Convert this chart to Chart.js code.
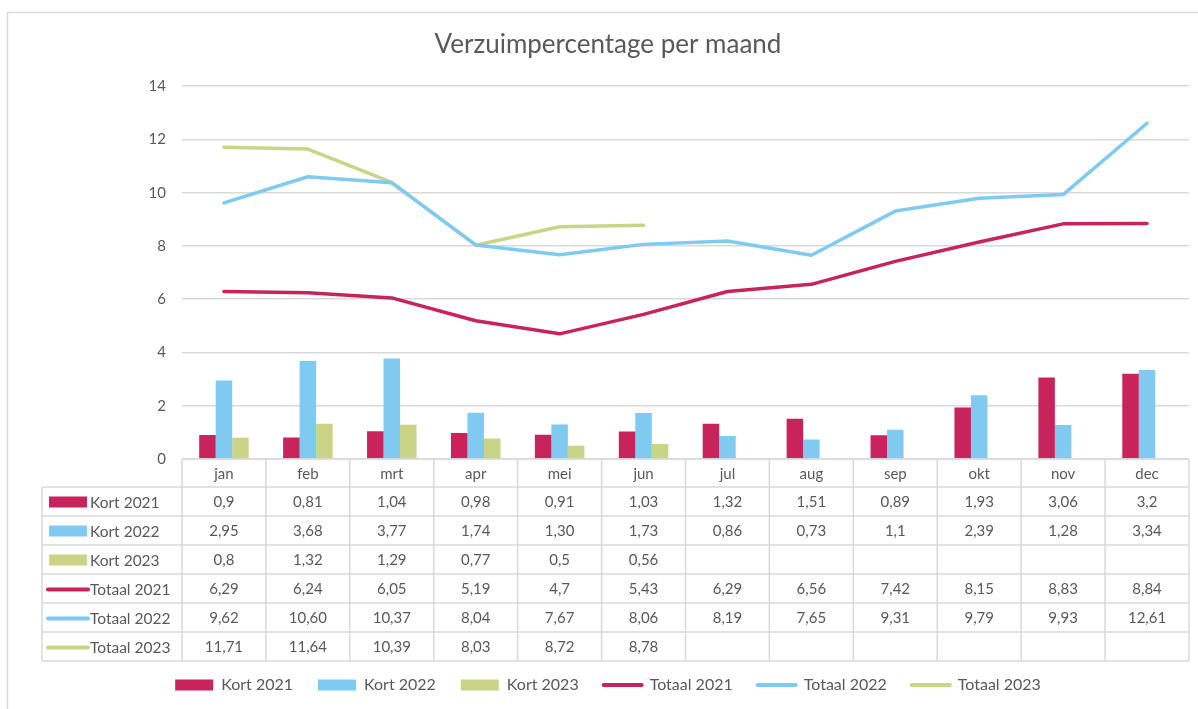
<!DOCTYPE html>
<html>
<head>
<meta charset="utf-8">
<script src="https://cdn.jsdelivr.net/npm/chart.js@4.4.1/dist/chart.umd.min.js"></script>
<style>
  html,body{margin:0;padding:0;background:#fff}
  #wrap{width:1198px;height:709px;position:relative}
</style>
</head>
<body>
<div id="wrap"><canvas id="chart"></canvas></div>
<script>
// Data (zoals in de tabel onder de grafiek)
const maanden = ['jan','feb','mrt','apr','mei','jun','jul','aug','sep','okt','nov','dec'];
const kort2021 = ['0,9','0,81','1,04','0,98','0,91','1,03','1,32','1,51','0,89','1,93','3,06','3,2'];
const kort2022 = ['2,95','3,68','3,77','1,74','1,30','1,73','0,86','0,73','1,1','2,39','1,28','3,34'];
const kort2023 = ['0,8','1,32','1,29','0,77','0,5','0,56'];
const totaal2021 = ['6,29','6,24','6,05','5,19','4,7','5,43','6,29','6,56','7,42','8,15','8,83','8,84'];
const totaal2022 = ['9,62','10,60','10,37','8,04','7,67','8,06','8,19','7,65','9,31','9,79','9,93','12,61'];
const totaal2023 = ['11,71','11,64','10,39','8,03','8,72','8,78'];
const yMin = 0, yMax = 14, yStap = 2;

const ROOD = '#c8245b', BLAUW = '#7ecaf1', GROEN = '#cad486';
const TEKST = '#595959', LIJN = '#d9d9d9';
const FONT = 'Lato, "Open Sans", sans-serif';

const num = arr => maanden.map((m,i)=> arr[i]==null ? null : parseFloat(arr[i].replace(',','.')));

const bar = (label, arr, kleur) => ({
  type:'bar', label, data:num(arr), tekst:arr,
  backgroundColor:kleur, borderWidth:0,
  barPercentage:1, categoryPercentage:0.59
});
const lijn = (label, arr, kleur) => ({
  type:'line', label, data:num(arr), tekst:arr,
  borderColor:kleur, backgroundColor:kleur, borderWidth:3.5,
  pointRadius:0, tension:0, spanGaps:false, borderCapStyle:'round', borderJoinStyle:'round'
});

// Kader + datatabel
const kader = {
  id:'kader',
  beforeDraw(chart){
    const ctx = chart.ctx;
    ctx.save();
    ctx.strokeStyle = LIJN; ctx.lineWidth = 1.5;
    ctx.beginPath();
    ctx.moveTo(7.5, 720); ctx.lineTo(7.5, 12.5); ctx.lineTo(1210, 12.5);
    ctx.stroke();
    ctx.restore();
  }
};

const dataTabel = {
  id:'dataTabel',
  afterDraw(chart){
    const {ctx, chartArea:a, scales:{x}} = chart;
    const ds = chart.data.datasets;
    const half = (x.getPixelForValue(1) - x.getPixelForValue(0)) / 2;
    const top = a.bottom, headH = 28, rowH = 29, left = 42;
    const bottom = top + headH + ds.length*rowH;
    ctx.save();
    ctx.strokeStyle = LIJN; ctx.lineWidth = 1.5;
    ctx.beginPath();
    ctx.moveTo(a.left, top); ctx.lineTo(a.right, top);
    for (let k = 0; k <= ds.length; k++){
      const y = top + headH + k*rowH;
      ctx.moveTo(left, y); ctx.lineTo(a.right, y);
    }
    ctx.moveTo(left, top + headH); ctx.lineTo(left, bottom);
    ctx.moveTo(a.left, top); ctx.lineTo(a.left, bottom);
    maanden.forEach((m,i)=>{
      const xr = x.getPixelForValue(i) + half;
      ctx.moveTo(xr, top); ctx.lineTo(xr, bottom);
    });
    ctx.stroke();

    ctx.fillStyle = TEKST;
    ctx.font = '15px ' + FONT;
    ctx.textAlign = 'center'; ctx.textBaseline = 'middle';
    maanden.forEach((m,i)=> ctx.fillText(m, x.getPixelForValue(i), top + headH/2 + 1));

    ds.forEach((d,r)=>{
      const yc = top + headH + r*rowH + rowH/2 + 1;
      d.tekst.forEach((t,i)=>{
        if (t != null) ctx.fillText(t, x.getPixelForValue(i), yc);
      });
      // legenda-sleutel in de eerste kolom
      if (d.type === 'bar'){
        ctx.fillStyle = d.backgroundColor;
        ctx.fillRect(49, yc - 6, 38, 11);
      } else {
        ctx.strokeStyle = d.borderColor; ctx.lineWidth = 4; ctx.lineCap = 'round';
        ctx.beginPath(); ctx.moveTo(48, yc); ctx.lineTo(88, yc); ctx.stroke();
      }
      ctx.fillStyle = TEKST;
      ctx.textAlign = 'left';
      ctx.font = '15.5px ' + FONT;
      ctx.fillText(d.label, 90, yc);
      ctx.font = '15px ' + FONT;
      ctx.textAlign = 'center';
    });
    ctx.restore();
  }
};

new Chart(document.getElementById('chart'), {
  type:'bar',
  data:{
    labels:maanden,
    datasets:[
      bar('Kort 2021', kort2021, ROOD),
      bar('Kort 2022', kort2022, BLAUW),
      bar('Kort 2023', kort2023, GROEN),
      lijn('Totaal 2021', totaal2021, ROOD),
      lijn('Totaal 2022', totaal2022, BLAUW),
      lijn('Totaal 2023', totaal2023, GROEN)
    ]
  },
  options:{
    responsive:true, maintainAspectRatio:false, animation:false,
    layout:{padding:{top:12, right:9, bottom:6, left:27}},
    plugins:{
      title:{display:true, text:'Verzuimpercentage per maand', color:TEKST,
        font:{family:FONT, size:26, weight:'normal'}, padding:{top:17, bottom:26}},
      legend:{
        position:'bottom',
        labels:{
          color:TEKST, font:{family:FONT, size:16}, usePointStyle:true,
          pointStyleWidth:38, boxHeight:11, padding:25,
          generateLabels(chart){
            const items = Chart.defaults.plugins.legend.labels.generateLabels(chart);
            items.forEach(it=>{
              const d = chart.data.datasets[it.datasetIndex];
              if (d.type === 'line'){
                it.pointStyle = 'line'; it.lineWidth = 4; it.strokeStyle = d.borderColor; it.lineCap = 'round';
              } else {
                it.pointStyle = 'rect'; it.lineWidth = 0;
              }
            });
            return items;
          }
        }
      },
      tooltip:{enabled:false}
    },
    scales:{
      x:{
        grid:{display:false}, border:{display:false},
        ticks:{display:false},
        afterFit(s){ s.height = 193; }
      },
      y:{
        min:yMin, max:yMax,
        ticks:{stepSize:yStap, color:TEKST, font:{family:FONT, size:15}, padding:16},
        grid:{color:LIJN, lineWidth:1.5, drawTicks:false},
        border:{display:false},
        afterFit(s){ s.width = 155; }
      }
    }
  },
  plugins:[kader, dataTabel]
});
</script>
</body>
</html>
